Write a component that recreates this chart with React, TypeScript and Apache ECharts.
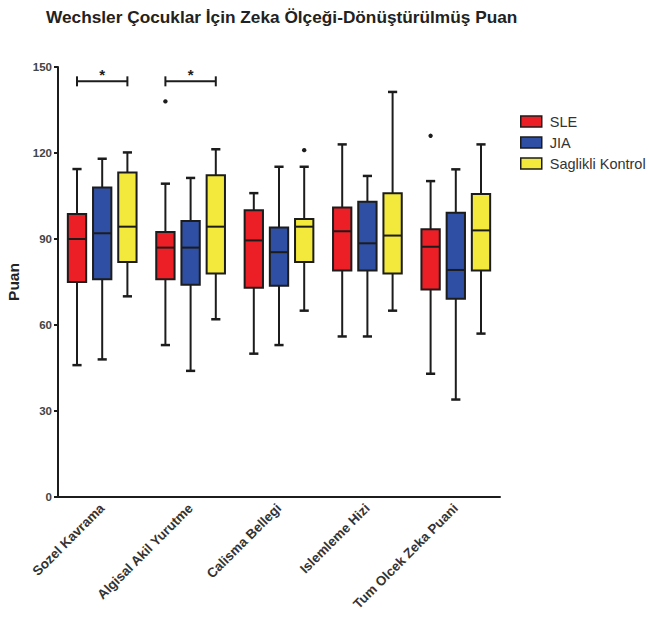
import React, { useEffect, useRef } from "react";
import * as echarts from "echarts";

const titleText = "Wechsler Çocuklar İçin Zeka Ölçeği-Dönüştürülmüş Puan";
const yAxisName = "Puan";
const categories = [
  "Sozel Kavrama",
  "Algisal Akil Yurutme",
  "Calisma Bellegi",
  "Islemleme Hizi",
  "Tum Olcek Zeka Puani",
];
const groupNames = ["SLE", "JIA", "Saglikli Kontrol"];
const groupColors = ["#ec1f27", "#2f4fa4", "#f3e83c"];

// [min, q1, median, q3, max] per category
const sleBoxes = [
  [46, 75, 90, 98.7, 114.4],
  [53, 76, 87, 92.4, 109.3],
  [50, 73, 89.5, 100, 106],
  [56, 79, 92.7, 101, 123],
  [43, 72.4, 87.3, 93.4, 110.2],
];
const jiaBoxes = [
  [48, 76, 92, 108, 118],
  [44, 74, 87, 96.3, 111.3],
  [53, 73.7, 85.4, 94, 115.2],
  [56, 79, 88.5, 103, 112],
  [34, 69.2, 79.2, 99.2, 114.3],
];
const kontrolBoxes = [
  [70, 82, 94.3, 113.2, 120.2],
  [62, 78, 94.3, 112.2, 121.3],
  [65, 82, 94.3, 97, 115.2],
  [65, 78, 91.2, 106, 141.3],
  [57, 79, 93, 105.7, 123],
];
// [categoryIndex, value]
const sleOutliers = [
  [1, 138],
  [4, 126],
];
const jiaOutliers: number[][] = [];
const kontrolOutliers = [[2, 121]];
// [categoryIndex, bracket level]
const significance = [
  [0, 145],
  [1, 145],
];

const INK = "#1c1c1c";
const FONT = "Liberation Sans, Arial, sans-serif";

function layoutInfo(api: any, cat: number, groupIdx: number) {
  const bw = api.size([1, 0])[0];
  const avail = bw * 0.8 - 2;
  const gap = (avail / 3) * 0.3;
  const w = (avail - 2 * gap) / 3;
  const cx = api.coord([cat, 0])[0] + (groupIdx - 1) * (w + gap);
  return { w, gap, cx };
}

function boxRender(groupIdx: number) {
  return (_params: any, api: any) => {
    const cat = api.value(0);
    const { w, cx } = layoutInfo(api, cat, groupIdx);
    const y = (v: number) => api.coord([cat, v])[1];
    const yMin = y(api.value(1));
    const yQ1 = y(api.value(2));
    const yMed = y(api.value(3));
    const yQ3 = y(api.value(4));
    const yMax = y(api.value(5));
    const cap = w * 0.5;
    const stroke = { stroke: INK, lineWidth: 2 };
    return {
      type: "group",
      children: [
        { type: "line", shape: { x1: cx, y1: yMax, x2: cx, y2: yQ3 }, style: stroke },
        { type: "line", shape: { x1: cx, y1: yQ1, x2: cx, y2: yMin }, style: stroke },
        { type: "line", shape: { x1: cx - cap / 2, y1: yMax, x2: cx + cap / 2, y2: yMax }, style: { stroke: INK, lineWidth: 2.5 } },
        { type: "line", shape: { x1: cx - cap / 2, y1: yMin, x2: cx + cap / 2, y2: yMin }, style: { stroke: INK, lineWidth: 2.5 } },
        {
          type: "rect",
          shape: { x: cx - w / 2, y: yQ3, width: w, height: yQ1 - yQ3 },
          style: { fill: groupColors[groupIdx], stroke: INK, lineWidth: 2 },
        },
        { type: "line", shape: { x1: cx - w / 2, y1: yMed, x2: cx + w / 2, y2: yMed }, style: stroke },
      ],
    };
  };
}

function outlierRender(groupIdx: number) {
  return (_params: any, api: any) => {
    const cat = api.value(0);
    const { cx } = layoutInfo(api, cat, groupIdx);
    const cy = api.coord([cat, api.value(1)])[1];
    return { type: "circle", shape: { cx, cy, r: 2.2 }, style: { fill: INK } };
  };
}

function sigRender(_params: any, api: any) {
  const cat = api.value(0);
  const left = layoutInfo(api, cat, 0).cx;
  const right = layoutInfo(api, cat, 2).cx;
  const yy = api.coord([cat, api.value(1)])[1];
  const stroke = { stroke: INK, lineWidth: 2 };
  return {
    type: "group",
    children: [
      { type: "line", shape: { x1: left, y1: yy, x2: right, y2: yy }, style: stroke },
      { type: "line", shape: { x1: left, y1: yy - 5, x2: left, y2: yy + 5 }, style: stroke },
      { type: "line", shape: { x1: right, y1: yy - 5, x2: right, y2: yy + 5 }, style: stroke },
      {
        type: "text",
        style: {
          x: (left + right) / 2,
          y: yy + 1,
          text: "*",
          fill: INK,
          font: `bold 15px ${FONT}`,
          align: "center",
          verticalAlign: "bottom",
        },
      },
    ],
  };
}

export default function App() {
  const ref = useRef<HTMLDivElement>(null);
  useEffect(() => {
    if (!ref.current) return;
    const chart = echarts.init(ref.current, null, { renderer: "svg" });
    const boxSets = [sleBoxes, jiaBoxes, kontrolBoxes];
    const outSets = [sleOutliers, jiaOutliers, kontrolOutliers];
    const series: any[] = [];
    boxSets.forEach((set, gi) => {
      series.push({
        name: groupNames[gi],
        type: "custom",
        renderItem: boxRender(gi),
        itemStyle: { color: groupColors[gi] },
        encode: { x: 0, y: [1, 2, 3, 4, 5] },
        data: set.map((b, ci) => [ci, ...b]),
        z: 2,
      });
    });
    outSets.forEach((set, gi) => {
      series.push({
        name: groupNames[gi] + " outliers",
        type: "custom",
        renderItem: outlierRender(gi),
        encode: { x: 0, y: 1 },
        data: set,
        z: 3,
      });
    });
    series.push({
      name: "significance",
      type: "custom",
      renderItem: sigRender,
      encode: { x: 0, y: 1 },
      data: significance,
      z: 3,
    });

    chart.setOption({
      animation: false,
      backgroundColor: "#ffffff",
      title: {
        text: titleText,
        left: 41,
        top: 3,
        textStyle: { fontFamily: FONT, fontWeight: "bold", fontSize: 17.25, color: "#222" },
      },
      legend: {
        data: groupNames,
        orient: "vertical",
        left: 515,
        top: 109,
        itemWidth: 21,
        itemHeight: 11,
        itemGap: 6,
        icon: "rect",
        itemStyle: { borderColor: INK, borderWidth: 1.5 },
        textStyle: { fontFamily: FONT, fontSize: 14.5, color: "#333", padding: [0, 0, 0, 3] },
      },
      grid: {
        left: 58,
        right: 149,
        top: 67,
        bottom: 125,
        containLabel: false,
        outerBoundsMode: "none",
      },
      xAxis: {
        type: "category",
        data: categories,
        axisLine: { lineStyle: { color: INK, width: 2 } },
        axisTick: { alignWithLabel: true, length: 4, lineStyle: { color: INK, width: 2 } },
        axisLabel: {
          rotate: 45,
          interval: 0,
          margin: 9,
          fontFamily: FONT,
          fontWeight: "bold",
          fontSize: 13.4,
          color: "#333",
        },
        splitLine: { show: false },
      },
      yAxis: {
        type: "value",
        min: 0,
        max: 150,
        interval: 30,
        name: yAxisName,
        nameLocation: "middle",
        nameGap: 28,
        nameTextStyle: { fontFamily: FONT, fontWeight: "bold", fontSize: 15.5, color: "#222" },
        axisLine: { show: true, lineStyle: { color: INK, width: 2 } },
        axisTick: { show: true, length: 4, lineStyle: { color: INK, width: 2 } },
        axisLabel: { fontFamily: FONT, fontSize: 11.5, fontWeight: "bold", color: "#444", margin: 6 },
        splitLine: { show: false },
      },
      series,
    });
    return () => chart.dispose();
  }, []);
  return (
    <div
      ref={ref}
      style={{ position: "fixed", left: 0, top: 0, width: 649, height: 622 }}
    />
  );
}
